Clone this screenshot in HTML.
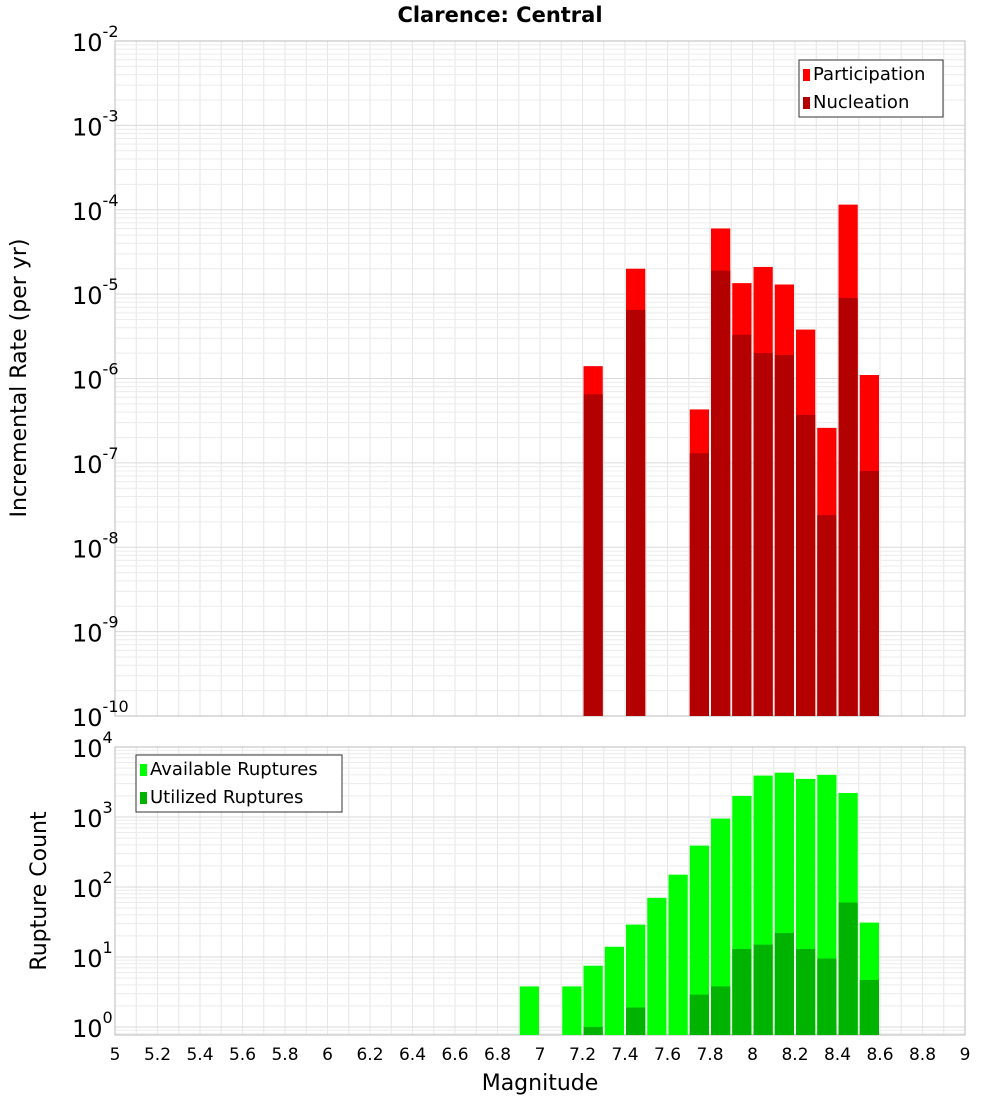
<!DOCTYPE html>
<html><head><meta charset="utf-8">
<style>
body{margin:0;background:#fff;font-family:"Liberation Sans","DejaVu Sans",sans-serif;}
svg text{font-family:"DejaVu Sans","Liberation Sans",sans-serif;}
</style></head>
<body>
<svg id="chart" width="1000" height="1100" xmlns="http://www.w3.org/2000/svg">
<defs>
<clipPath id="clipTop"><rect x="115" y="41" width="850" height="675"/></clipPath>
<clipPath id="clipBot"><rect x="115" y="747" width="850" height="288"/></clipPath>
</defs>
<rect width="1000" height="1100" fill="#fff"/>
<text x="500" y="22" text-anchor="middle" font-size="21" font-weight="bold">Clarence: Central</text>
<g id="top"></g>
<g id="bot"></g>
<text transform="translate(26,378) rotate(-90)" text-anchor="middle" font-size="22">Incremental Rate (per yr)</text>
<text transform="translate(46,891) rotate(-90)" text-anchor="middle" font-size="22">Rupture Count</text>
<text x="540" y="1090" text-anchor="middle" font-size="22">Magnitude</text>
</svg>
<script>
const topMags=[7.25,7.45,7.75,7.85,7.95,8.05,8.15,8.25,8.35,8.45,8.55];
const participation=[1.4e-6,2e-5,4.3e-7,6e-5,1.35e-5,2.1e-5,1.3e-5,3.8e-6,2.6e-7,1.15e-4,1.1e-6];
const nucleation=[6.5e-7,6.5e-6,1.3e-7,1.9e-5,3.3e-6,2e-6,1.9e-6,3.7e-7,2.4e-8,9e-6,8e-8];
const botMags=[6.95,7.15,7.25,7.35,7.45,7.55,7.65,7.75,7.85,7.95,8.05,8.15,8.25,8.35,8.45,8.55];
const available=[3.8,3.8,7.5,14,29,70,150,390,950,2000,3900,4300,3500,4000,2200,31];
const utilized=[0,0,1,0,1.9,0,0,2.9,3.8,13,15,22,13,9.5,60,4.7];
const xTicks=["5","5.2","5.4","5.6","5.8","6","6.2","6.4","6.6","6.8","7","7.2","7.4","7.6","7.8","8","8.2","8.4","8.6","8.8","9"];
const topExps=[-10,-9,-8,-7,-6,-5,-4,-3,-2];
const botExps=[0,1,2,3,4];

const NS="http://www.w3.org/2000/svg";
const X0=115,X1=965;
const xs=m=>X0+(m-5)/4*(X1-X0);
function mk(p,tag,at){const e=document.createElementNS(NS,tag);for(const k in at)e.setAttribute(k,at[k]);p.appendChild(e);return e;}
function panel(g,yTop,yBot,lo,hi,minV,exps,name){
  const lmin=Math.log10(minV);
  const ys=v=>yBot-(Math.log10(v)-lmin)/(hi-lmin)*(yBot-yTop);
  for(let i=0;i<=40;i++){const x=xs(5+i*0.1);const l=mk(g,'line',{x1:x,x2:x,y1:yTop,y2:yBot,stroke:'#e6e6e6','stroke-width':1});
    }
  for(let e=lo-1;e<hi;e++){for(let k=1;k<10;k++){const y=ys(k*Math.pow(10,e));if(y<yTop||y>yBot)continue;
    const l=mk(g,'line',{x1:X0,x2:X1,y1:y,y2:y,stroke:k==1?'#dadada':'#ececec','stroke-width':1});
    }}
  const fr=mk(g,'rect',{x:X0,y:yTop,width:X1-X0,height:yBot-yTop,fill:'none',stroke:'#bbb'});
  
  exps.forEach(e=>{const y=ys(Math.pow(10,e));const t=mk(g,'text',{x:72,y:y+10,'font-size':24});
    
    t.textContent='10';const s=mk(t,'tspan',{dy:-14,'font-size':16});s.textContent=String(e);});
  return ys;
}
function bar(g,m,v,ys,yBot,col,nm){if(!v)return;const x=xs(m-0.05)+1,w=xs(m+0.05)-xs(m-0.05)-2;const y=ys(v);
  const r=mk(g,'rect',{x:x,y:y,width:w,height:yBot-y,fill:col});
  }
const gt=document.getElementById('top'),gb=document.getElementById('bot');
const ysT=panel(gt,41,716,-10,-2,1e-10,topExps,'top');
const bt=mk(gt,'g',{'clip-path':'url(#clipTop)'});

topMags.forEach((m,i)=>{bar(bt,m,participation[i],ysT,716,'#ff0000','participation-bar');bar(bt,m,nucleation[i],ysT,716,'#b30000','nucleation-bar');});
const minB=Math.pow(10,-8/69.75);
const ysB=panel(gb,747,1035,0,4,minB,botExps,'bottom');
const bb=mk(gb,'g',{'clip-path':'url(#clipBot)'});

botMags.forEach((m,i)=>{bar(bb,m,available[i],ysB,1035,'#00ff00','available-bar');bar(bb,m,utilized[i],ysB,1035,'#00b300','utilized-bar');});
xTicks.forEach(t=>{const x=xs(parseFloat(t));const e=mk(gb,'text',{x:x,y:1060,'text-anchor':'middle','font-size':17});
  e.textContent=t;});
function legend(g,x,y,w,items,nm){const lg=mk(g,'g',{});
  mk(lg,'rect',{x:x,y:y,width:w,height:57,fill:'#fff',stroke:'#333'});
  items.forEach((it,i)=>{const r=mk(lg,'rect',{x:x+4,y:y+9+i*28,width:7,height:12,fill:it[1]});
    
    const t=mk(lg,'text',{x:x+14,y:y+20+i*28,'font-size':18});t.textContent=it[0];
    });}
legend(gt,799,60,144,[['Participation','#ff0000'],['Nucleation','#b30000']],'top-legend');
legend(gb,136,755,206,[['Available Ruptures','#00ff00'],['Utilized Ruptures','#00b300']],'bottom-legend');
</script>
</body></html>
